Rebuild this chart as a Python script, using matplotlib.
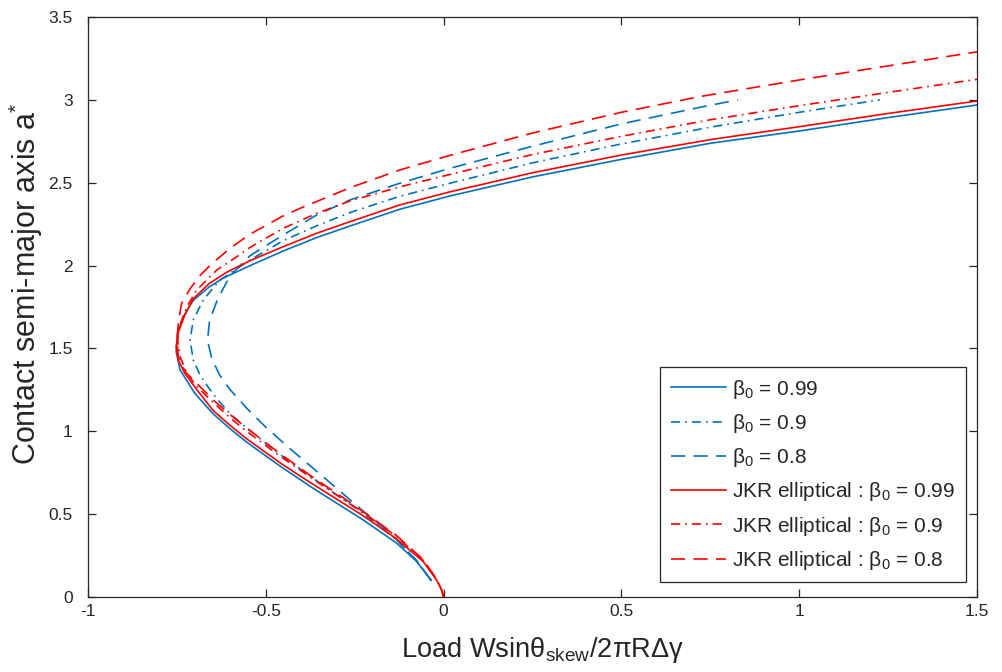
import matplotlib
matplotlib.use('Agg')
import matplotlib.pyplot as plt

plt.rcParams['font.family'] = ['Liberation Sans', 'DejaVu Sans']
plt.rcParams['mathtext.fontset'] = 'custom'
plt.rcParams['mathtext.rm'] = 'Liberation Sans'
plt.rcParams['mathtext.it'] = 'Liberation Sans:italic'
plt.rcParams['axes.unicode_minus'] = False

# values (x = load, y = a*)
blue_099_x = [-0.035, -0.076, -0.132, -0.226, -0.30, -0.366, -0.46, -0.554, -0.60, -0.648, -0.70, -0.741,
              -0.752, -0.748, -0.73, -0.704, -0.66, -0.619, -0.544, -0.451, -0.357, -0.263, -0.123, 0.018,
              0.25, 0.5, 0.75, 1.0, 1.25, 1.5]
blue_099_y = [0.10, 0.215, 0.325, 0.465, 0.565, 0.655, 0.79, 0.935, 1.015, 1.105, 1.23, 1.37,
              1.48, 1.60, 1.70, 1.79, 1.87, 1.925, 2.0, 2.088, 2.169, 2.239, 2.34, 2.42,
              2.535, 2.641, 2.738, 2.812, 2.893, 2.969]

blue_09_x = [-0.035, -0.076, -0.132, -0.226, -0.30, -0.366, -0.46, -0.554, -0.60, -0.635, -0.66, -0.685,
             -0.704, -0.713, -0.704, -0.676, -0.629, -0.544, -0.451, -0.357, -0.263, -0.123, 0.018,
             0.25, 0.5, 0.75, 1.0, 1.227]
blue_09_y = [0.10, 0.22, 0.345, 0.505, 0.615, 0.715, 0.86, 1.02, 1.105, 1.19, 1.26, 1.34,
             1.43, 1.55, 1.672, 1.792, 1.913, 2.034, 2.15, 2.24, 2.32, 2.418, 2.497,
             2.62, 2.734, 2.835, 2.925, 3.0]

blue_08_x = [-0.035, -0.076, -0.132, -0.179, -0.244, -0.30, -0.366, -0.432, -0.50, -0.554, -0.60, -0.63,
             -0.652, -0.664, -0.658, -0.635, -0.60, -0.563, -0.544, -0.451, -0.357, -0.263, -0.123, 0.018,
             0.25, 0.5, 0.721, 0.827]
blue_08_y = [0.10, 0.22, 0.345, 0.435, 0.55, 0.655, 0.775, 0.895, 1.025, 1.14, 1.25, 1.34,
             1.44, 1.55, 1.67, 1.80, 1.94, 2.02, 2.06, 2.185, 2.305, 2.396, 2.497, 2.587,
             2.72, 2.855, 2.955, 3.0]

red_099_x = [0.0, -0.006, -0.019, -0.057, -0.132, -0.226, -0.319, -0.40, -0.46, -0.554, -0.60, -0.648,
             -0.69, -0.728, -0.746, -0.752, -0.746, -0.728, -0.704, -0.66, -0.61, -0.544, -0.451, -0.357,
             -0.263, -0.123, 0.018, 0.25, 0.5, 0.75, 1.0, 1.25, 1.5]
red_099_y = [0.0, 0.045, 0.10, 0.213, 0.35, 0.49, 0.615, 0.725, 0.81, 0.955, 1.035, 1.125,
             1.24, 1.35, 1.43, 1.51, 1.60, 1.70, 1.80, 1.89, 1.96, 2.03, 2.114, 2.195,
             2.265, 2.366, 2.445, 2.56, 2.667, 2.76, 2.838, 2.918, 2.993]

red_09_x = [0.0, -0.006, -0.019, -0.057, -0.132, -0.226, -0.30, -0.366, -0.46, -0.554, -0.60, -0.648,
            -0.694, -0.722, -0.741, -0.748, -0.74, -0.722, -0.694, -0.638, -0.57, -0.544, -0.451, -0.357,
            -0.263, -0.123, 0.018, 0.25, 0.5, 0.75, 1.0, 1.25, 1.5]
red_09_y = [0.0, 0.045, 0.105, 0.22, 0.365, 0.51, 0.615, 0.71, 0.85, 1.0, 1.08, 1.175,
            1.27, 1.35, 1.45, 1.55, 1.65, 1.752, 1.853, 1.973, 2.07, 2.11, 2.225, 2.315,
            2.39, 2.475, 2.55, 2.67, 2.78, 2.88, 2.965, 3.045, 3.124]

red_08_x = [0.0, -0.006, -0.019, -0.057, -0.132, -0.226, -0.30, -0.366, -0.46, -0.554, -0.60, -0.648,
            -0.69, -0.727, -0.746, -0.75, -0.746, -0.737, -0.713, -0.685, -0.65, -0.60, -0.544, -0.451,
            -0.404, -0.263, -0.123, 0.018, 0.25, 0.5, 0.721, 1.0, 1.25, 1.5]
red_08_y = [0.0, 0.045, 0.105, 0.225, 0.37, 0.515, 0.625, 0.72, 0.865, 1.02, 1.10, 1.19,
            1.28, 1.36, 1.45, 1.55, 1.652, 1.772, 1.86, 1.94, 2.015, 2.105, 2.19, 2.30,
            2.345, 2.47, 2.577, 2.665, 2.80, 2.925, 3.02, 3.12, 3.205, 3.29]

legend_labels = [r'β$_0$ = 0.99', r'β$_0$ = 0.9', r'β$_0$ = 0.8',
                 r'JKR elliptical : β$_0$ = 0.99', r'JKR elliptical : β$_0$ = 0.9',
                 r'JKR elliptical : β$_0$ = 0.8']
xticks = [-1, -0.5, 0, 0.5, 1, 1.5]
xtick_labels = ['-1', '-0.5', '0', '0.5', '1', '1.5']
yticks = [0, 0.5, 1, 1.5, 2, 2.5, 3, 3.5]
ytick_labels = ['0', '0.5', '1', '1.5', '2', '2.5', '3', '3.5']

blue = '#0072BD'
red = '#FF0000'
dashed = (0, (8.5, 5))
dashdot = (0, (5.5, 3, 1, 3))
lw = 1.2

fig = plt.figure(figsize=(10.03, 6.72), dpi=100)
ax = fig.add_axes([88 / 1003, 75 / 672, 889 / 1003, 580 / 672])

ax.plot(blue_099_x, blue_099_y, color=blue, lw=lw, ls='-', label=legend_labels[0])
ax.plot(blue_09_x, blue_09_y, color=blue, lw=lw, ls=dashdot, label=legend_labels[1])
ax.plot(blue_08_x, blue_08_y, color=blue, lw=lw, ls=dashed, label=legend_labels[2])
ax.plot(red_099_x, red_099_y, color=red, lw=lw, ls='-', label=legend_labels[3])
ax.plot(red_09_x, red_09_y, color=red, lw=lw, ls=dashdot, label=legend_labels[4])
ax.plot(red_08_x, red_08_y, color=red, lw=lw, ls=dashed, label=legend_labels[5])

ax.set_xlim(-1, 1.5)
ax.set_ylim(0, 3.5)
ax.set_xticks(xticks)
ax.set_xticklabels(xtick_labels)
ax.set_yticks(yticks)
ax.set_yticklabels(ytick_labels)

axcol = '#262626'
for s in ax.spines.values():
    s.set_color(axcol)
    s.set_linewidth(0.9)
ax.tick_params(direction='in', length=6, width=0.9, colors=axcol, labelsize=12.5,
               top=True, right=True)
ax.tick_params(axis='x', pad=5)
ax.tick_params(axis='y', pad=11)

ax.set_xlabel(r'Load Wsinθ$_{\mathrm{skew}}$/2πRΔγ', fontsize=19.6, color=axcol, labelpad=12)
ax.xaxis.set_label_coords(0.511, -0.065)
ax.xaxis.label.set_va('top')
ax.set_ylabel(r'Contact semi-major axis a$^{*}$', fontsize=22, color=axcol)
ax.yaxis.set_label_coords(-0.048, 0.54)

leg = ax.legend(loc='lower right', bbox_to_anchor=(0.9876, 0.0252), borderaxespad=0,
                fontsize=15, handlelength=2.64, handletextpad=0.31, labelspacing=0.54,
                borderpad=0.5, fancybox=False, framealpha=1)
leg.get_frame().set_edgecolor(axcol)
leg.get_frame().set_linewidth(0.9)
for t in leg.get_texts():
    t.set_color(axcol)

fig.savefig('out.png', dpi=100)
